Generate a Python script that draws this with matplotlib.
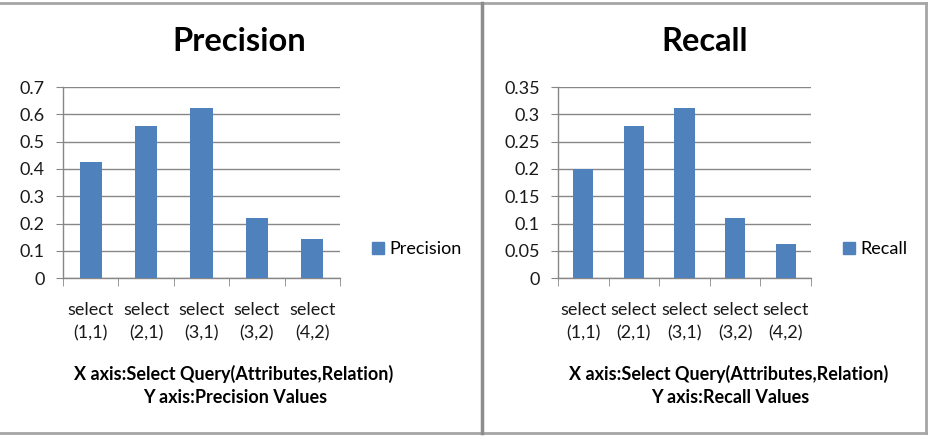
import matplotlib
matplotlib.use('Agg')
import matplotlib.pyplot as plt
from matplotlib.lines import Line2D

# values
queries = ['select\n(1,1)', 'select\n(2,1)', 'select\n(3,1)', 'select\n(3,2)', 'select\n(4,2)']
precision = [0.425, 0.556, 0.625, 0.222, 0.143]
recall = [0.2, 0.278, 0.3125, 0.111, 0.0625]
precision_ticks = [0, 0.1, 0.2, 0.3, 0.4, 0.5, 0.6, 0.7]
precision_ticklabels = ['0', '0.1', '0.2', '0.3', '0.4', '0.5', '0.6', '0.7']
recall_ticks = [0, 0.05, 0.1, 0.15, 0.2, 0.25, 0.3, 0.35]
recall_ticklabels = ['0', '0.05', '0.1', '0.15', '0.2', '0.25', '0.3', '0.35']

BAR = '#4F81BD'
GRID = '#878787'
plt.rcParams['font.family'] = ['Lato', 'DejaVu Sans']

fig = plt.figure(figsize=(9.29, 4.4), dpi=100)


def draw_panel(rect, values, ticks, ticklabels, title, title_x, name, caption_x, legend_x):
    ax = fig.add_axes(rect)
    x = list(range(len(values)))
    ax.bar(x, values, width=0.4, color=BAR, zorder=3, label=name)
    ax.set_xlim(-0.5, len(values) - 0.5)
    ax.set_ylim(ticks[0], ticks[-1])
    ax.set_yticks(ticks)
    ax.set_yticklabels(ticklabels, fontsize=13, color='#1a1a1a')
    ax.set_xticks(x)
    ax.set_xticklabels(queries, fontsize=13, color='#1a1a1a', linespacing=1.6)
    ax.set_xticks([i - 0.5 for i in range(len(values) + 1)], minor=True)
    ax.tick_params(axis='x', which='major', length=0, pad=17)
    ax.tick_params(axis='x', which='minor', length=6, color=GRID, direction='out')
    ax.tick_params(axis='y', length=5, color=GRID, direction='out', pad=8)
    ax.yaxis.grid(True, color=GRID, linewidth=1, zorder=0)
    for s in ['top', 'right']:
        ax.spines[s].set_visible(False)
    for s in ['left', 'bottom']:
        ax.spines[s].set_color(GRID)
        ax.spines[s].set_linewidth(1)

    fig.text(title_x, 0.905, title, fontsize=23.5, fontweight='bold', ha='center', va='center')
    fig.text(caption_x, 0.150, 'X axis:Select Query(Attributes,Relation)',
             fontsize=13, fontweight='bold', ha='center', va='center')
    fig.text(caption_x + 0.002, 0.096, 'Y axis:' + name + ' Values',
             fontsize=13, fontweight='bold', ha='center', va='center')

    handle = [plt.Rectangle((0, 0), 1, 1, color=BAR)]
    fig.legend(handle, [name], loc='center left', bbox_to_anchor=(legend_x, 0.434),
               frameon=False, fontsize=13, handlelength=0.65, handleheight=0.65,
               handletextpad=0.3, borderpad=0)
    return ax


draw_panel([0.0678, 0.368, 0.2982, 0.434], precision, precision_ticks, precision_ticklabels,
           'Precision', 0.257, 'Precision', 0.251, 0.391)
draw_panel([0.6006, 0.368, 0.2724, 0.434], recall, recall_ticks, recall_ticklabels,
           'Recall', 0.759, 'Recall', 0.784, 0.898)

# outer frame like the screenshot
frame_color = '#a6a6a6'
fig.add_artist(Line2D([0, 1], [0.993, 0.993], color=frame_color, linewidth=2, transform=fig.transFigure))
fig.add_artist(Line2D([0, 1], [0.016, 0.016], color=frame_color, linewidth=2, transform=fig.transFigure))
fig.add_artist(Line2D([0.519, 0.519], [0.016, 0.993], color='#8c8c8c', linewidth=2.5, transform=fig.transFigure))
fig.add_artist(Line2D([0.997, 0.997], [0.016, 0.993], color=frame_color, linewidth=2, transform=fig.transFigure))

plt.savefig('out.png', dpi=100)
plt.close()
